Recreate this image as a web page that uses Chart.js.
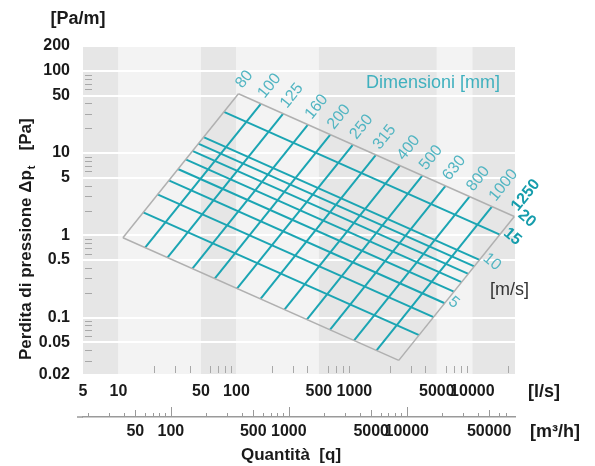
<!DOCTYPE html>
<html>
<head>
<meta charset="utf-8">
<script src="https://cdn.jsdelivr.net/npm/chart.js@4"></script>
<style>
  html, body { margin: 0; padding: 0; background: #fff; }
  canvas { display: block; }
</style>
</head>
<body>
<canvas id="chart" width="595" height="466"></canvas>
<script>
'use strict';

// axis ticks
const lossTicks = [0.02, 0.05, 0.1, 0.5, 1, 5, 10, 50, 100, 200];
const flowTicksLs = [5, 10, 50, 100, 500, 1000, 5000, 10000];
const flowTicksM3h = [50, 100, 500, 1000, 5000, 10000, 50000];
const shadeEdges = [5, 10, 50, 100, 500, 5000, 10000, 23000];

// duct diameters [mm] - flow [l/s] and loss [Pa/m] where each line meets 2 m/s and 20 m/s
const diameters = [80, 100, 125, 160, 200, 250, 315, 400, 500, 630, 800, 1000, 1250];
const dFlowLow  = [10.9, 16.8, 26.0, 42.3, 65.4, 101, 160, 255, 395, 620, 991, 1535, 2378];
const dLossLow  = [0.934, 0.707, 0.535, 0.393, 0.297, 0.225, 0.168, 0.125, 0.0945, 0.0708, 0.0525, 0.0397, 0.0301];
const dFlowHigh = [104, 161, 249, 404, 625, 969, 1523, 2432, 3767, 5929, 9470, 14656, 22700];
const dLossHigh = [52.5, 39.7, 30.1, 22.1, 16.7, 12.6, 9.47, 7.02, 5.31, 3.98, 2.95, 2.23, 1.69];

// air velocities [m/s] - flow and loss where each line meets 80 mm and 1250 mm
const velocities = [2, 3, 4, 5, 6, 7, 8, 9, 10, 15, 20];
const vFlowLow  = [10.9, 16.2, 21.4, 26.7, 31.9, 37.1, 42.3, 47.5, 52.6, 78.3, 104];
const vLossLow  = [0.934, 1.90, 3.14, 4.64, 6.39, 8.36, 10.6, 13.0, 15.6, 31.7, 52.5];
const vFlowHigh = [2378, 3538, 4689, 5835, 6973, 8109, 9248, 10382, 11511, 17119, 22700];
const vLossHigh = [0.0301, 0.0611, 0.101, 0.149, 0.206, 0.269, 0.340, 0.418, 0.503, 1.02, 1.69];
const velocityLabels = [5, 10, 15, 20];

const FONT = "'Liberation Sans', Arial, sans-serif";
const INK = '#1a1a1a';
const LINE = '#1ba5b3';
const LABEL = '#52b5c2';
const STRONG = '#169dac';
const GREY = '#b0b0b0';

function seg(x1, y1, x2, y2) {
    return [{x: x1, y: y1}, {x: x2, y: y2}];
}

let datasets = [];
for (let i = 0; i < diameters.length; i++) {
    let edge = i === 0 || i === diameters.length - 1;
    datasets.push({
        label: diameters[i] + ' mm',
        data: seg(dFlowLow[i], dLossLow[i], dFlowHigh[i], dLossHigh[i]),
        borderColor: edge ? GREY : LINE,
        borderWidth: edge ? 1.5 : 2,
        order: edge ? 0 : 1
    });
}
for (let i = 0; i < velocities.length; i++) {
    let edge = i === 0 || i === velocities.length - 1;
    datasets.push({
        label: velocities[i] + ' m/s',
        data: seg(vFlowLow[i], vLossLow[i], vFlowHigh[i], vLossHigh[i]),
        borderColor: edge ? GREY : LINE,
        borderWidth: edge ? 1.5 : 2,
        order: edge ? 0 : 1
    });
}
datasets.forEach(ds => {
    ds.showLine = true;
    ds.pointRadius = 0;
    ds.fill = false;
});

// minor tick values between lo and hi (log axis)
function minorValues(lo, hi, mults) {
    let out = [];
    for (let p = -3; p <= 5; p++) {
        mults.forEach(m => {
            let v = m * Math.pow(10, p);
            if (v > lo * 1.001 && v < hi * 0.999) out.push({v: v, m: m});
        });
    }
    return out;
}

const backdrop = {
    id: 'backdrop',
    beforeDraw(chart) {
        const {ctx, chartArea: a, scales: {x}} = chart;
        ctx.save();
        for (let i = 0; i < shadeEdges.length - 1; i++) {
            let l = x.getPixelForValue(shadeEdges[i]);
            let r = x.getPixelForValue(shadeEdges[i + 1]);
            ctx.fillStyle = i % 2 === 0 ? '#e6e6e6' : '#f3f3f3';
            ctx.fillRect(l, a.top, r - l, a.bottom - a.top);
        }
        ctx.restore();
    },
    beforeDatasetsDraw(chart) {
        const {ctx, chartArea: a, scales: {x, x2, y}} = chart;
        ctx.save();
        ctx.strokeStyle = '#a8a8a8';
        ctx.lineWidth = 1;
        // pressure axis minor ticks
        minorValues(y.min, y.max, [2, 3, 4, 6, 7, 8, 9]).forEach(t => {
            let py = Math.round(y.getPixelForValue(t.v)) + 0.5;
            ctx.beginPath();
            ctx.moveTo(a.left + 2, py);
            ctx.lineTo(a.left + 9, py);
            ctx.stroke();
        });
        // l/s minor ticks along the bottom
        minorValues(11, x.max, [2, 3, 4, 6, 7, 8, 9]).forEach(t => {
            let px = Math.round(x.getPixelForValue(t.v)) + 0.5;
            ctx.beginPath();
            ctx.moveTo(px, a.bottom - 9);
            ctx.lineTo(px, a.bottom - 2);
            ctx.stroke();
        });
        // m3/h axis line (a bit longer than the plot) and its ticks
        ctx.strokeStyle = '#9a9a9a';
        ctx.lineWidth = 1.5;
        ctx.beginPath();
        ctx.moveTo(a.left - 6, x2.top);
        ctx.lineTo(a.left, x2.top);
        ctx.stroke();
        ctx.lineWidth = 1;
        minorValues(x2.min, 75000, [1, 2, 3, 4, 5, 6, 7, 8, 9]).forEach(t => {
            let px = Math.round(x2.getPixelForValue(t.v)) + 0.5;
            let h = t.m === 1 ? 10 : t.m === 5 ? 7 : 4;
            ctx.beginPath();
            ctx.moveTo(px, x2.top);
            ctx.lineTo(px, x2.top - h);
            ctx.stroke();
        });
        ctx.restore();
    },
    afterDatasetsDraw(chart) {
        const {ctx, scales: {x, y}} = chart;
        ctx.save();
        ctx.textAlign = 'left';
        ctx.textBaseline = 'alphabetic';
        // diameter labels at the top end of each line
        for (let i = 0; i < diameters.length; i++) {
            let x1 = x.getPixelForValue(dFlowLow[i]), y1 = y.getPixelForValue(dLossLow[i]);
            let x2 = x.getPixelForValue(dFlowHigh[i]), y2 = y.getPixelForValue(dLossHigh[i]);
            let strong = diameters[i] === 1250;
            ctx.save();
            ctx.translate(x2, y2);
            ctx.rotate(Math.atan2(y2 - y1, x2 - x1));
            ctx.font = (strong ? 'bold ' : '') + '16px ' + FONT;
            ctx.fillStyle = strong ? STRONG : LABEL;
            ctx.fillText(String(diameters[i]), 6, 0);
            ctx.restore();
        }
        // velocity labels past the right end
        velocityLabels.forEach(v => {
            let i = velocities.indexOf(v);
            let px = x.getPixelForValue(vFlowHigh[i]), py = y.getPixelForValue(vLossHigh[i]);
            let strong = v >= 15;
            ctx.save();
            ctx.translate(px, py);
            ctx.rotate(40 * Math.PI / 180);
            ctx.font = (strong ? 'bold ' : '') + '16px ' + FONT;
            ctx.fillStyle = strong ? STRONG : LABEL;
            ctx.fillText(String(v), 2, -2);
            ctx.restore();
        });
        ctx.restore();
    },
    afterDraw(chart) {
        const {ctx, chartArea: a, scales: {x, x2}} = chart;
        ctx.save();
        ctx.fillStyle = INK;
        ctx.textBaseline = 'middle';
        ctx.font = 'bold 18px ' + FONT;
        ctx.textAlign = 'center';
        ctx.fillText('[Pa/m]', 78, 19);
        ctx.font = 'bold 17px ' + FONT;
        ctx.fillText('Quantità  [q]', 291, 455);
        ctx.font = 'bold 18px ' + FONT;
        ctx.textAlign = 'left';
        ctx.fillText('[l/s]', a.right + 13, x.top + 17);
        ctx.fillText('[m³/h]', a.right + 15, x2.top + 15);
        ctx.font = '18px ' + FONT;
        ctx.fillStyle = '#333';
        ctx.fillText('[m/s]', 490, 290);
        ctx.fillStyle = '#3fb0be';
        ctx.fillText('Dimensioni [mm]', 366, 83);

        // pressure title, rotated, with subscript t
        ctx.fillStyle = INK;
        ctx.textBaseline = 'alphabetic';
        ctx.translate(31, 360);
        ctx.rotate(-Math.PI / 2);
        ctx.font = 'bold 17px ' + FONT;
        let main = 'Perdita di pressione Δp';
        let w = ctx.measureText(main).width;
        ctx.fillText(main, 0, 0);
        ctx.font = 'bold 11px ' + FONT;
        ctx.fillText('t', w + 1, 4);
        let tw = ctx.measureText('t').width;
        ctx.font = 'bold 17px ' + FONT;
        ctx.fillText('[Pa]', w + tw + 16, 0);
        ctx.restore();
    }
};

const tickFont = {family: FONT, size: 16, weight: 'bold'};

new Chart(document.getElementById('chart'), {
    type: 'scatter',
    data: {datasets: datasets},
    options: {
        responsive: false,
        animation: false,
        events: [],
        layout: {padding: {left: 0, right: 80, top: 46, bottom: 0}},
        plugins: {legend: {display: false}, tooltip: {enabled: false}},
        scales: {
            x: {
                type: 'logarithmic',
                position: 'bottom',
                weight: 1,
                min: 5,
                max: 23000,
                afterFit: s => { s.height = 42; },
                afterBuildTicks: s => { s.ticks = flowTicksLs.map(v => ({value: v})); },
                grid: {display: false, drawTicks: false},
                border: {display: false},
                ticks: {
                    autoSkip: false, maxRotation: 0, padding: 7,
                    color: INK, font: tickFont,
                    callback: v => String(v)
                }
            },
            x2: {
                type: 'logarithmic',
                position: 'bottom',
                weight: 2,
                min: 18,
                max: 82800,
                afterFit: s => { s.height = 49; },
                afterBuildTicks: s => { s.ticks = flowTicksM3h.map(v => ({value: v})); },
                grid: {display: false, drawTicks: false},
                border: {display: true, color: '#9a9a9a', width: 1.5},
                ticks: {
                    autoSkip: false, maxRotation: 0, padding: 5,
                    color: INK, font: tickFont,
                    callback: v => String(v)
                }
            },
            y: {
                type: 'logarithmic',
                position: 'left',
                min: 0.02,
                max: 200,
                afterFit: s => { s.width = 83; },
                afterBuildTicks: s => { s.ticks = lossTicks.map(v => ({value: v})); },
                grid: {color: '#ffffff', lineWidth: 2, drawTicks: false},
                border: {display: false},
                ticks: {
                    autoSkip: false, padding: 13,
                    color: INK, font: tickFont,
                    callback: v => String(v)
                }
            }
        }
    },
    plugins: [backdrop]
});
</script>
</body>
</html>
